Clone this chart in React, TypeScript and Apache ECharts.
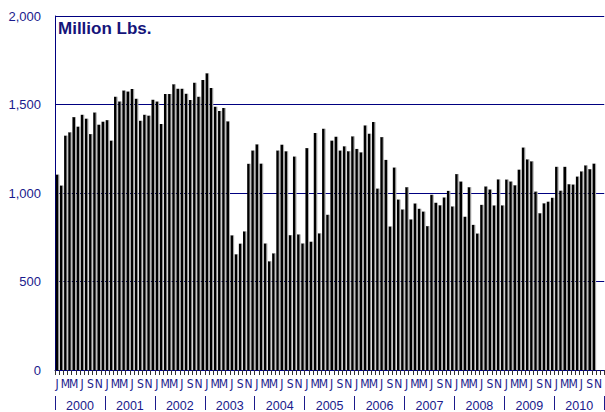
import React, { useEffect, useRef } from "react";
import * as echarts from "echarts";

const years = ["2000", "2001", "2002", "2003", "2004", "2005", "2006", "2007", "2008", "2009", "2010"];
const monthLetters = ["J", "F", "M", "A", "M", "J", "J", "A", "S", "O", "N", "D"];

const v2000 = [1104, 1042, 1324, 1343, 1429, 1375, 1442, 1420, 1333, 1455, 1386, 1403];
const v2001 = [1412, 1296, 1544, 1517, 1579, 1574, 1587, 1532, 1408, 1442, 1437, 1527];
const v2002 = [1517, 1390, 1559, 1559, 1615, 1589, 1589, 1561, 1525, 1623, 1544, 1638];
const v2003 = [1677, 1593, 1487, 1463, 1480, 1405, 761, 654, 714, 783, 1165, 1240];
const v2004 = [1275, 1166, 715, 614, 659, 1240, 1273, 1236, 762, 1206, 766, 715];
const v2005 = [1254, 725, 1339, 772, 1363, 877, 1296, 1318, 1240, 1264, 1236, 1320];
const v2006 = [1249, 1230, 1382, 1335, 1401, 1025, 1316, 1187, 811, 1144, 963, 907];
const v2007 = [1033, 851, 941, 911, 895, 813, 990, 945, 931, 975, 1012, 924];
const v2008 = [1107, 1065, 866, 1033, 820, 771, 933, 1037, 1020, 930, 1077, 930];
const v2009 = [1076, 1065, 1044, 1132, 1257, 1190, 1179, 1008, 886, 942, 951, 973];
const v2010 = [1148, 1013, 1148, 1050, 1048, 1093, 1122, 1156, 1135, 1166];

const yTicks = [0, 500, 1000, 1500, 2000];

export default function App() {
  const ref = useRef<HTMLDivElement>(null);
  useEffect(() => {
    if (!ref.current) return;
    const chart = echarts.init(ref.current, null, { renderer: "svg" });
    const months: string[] = [];
    years.forEach((y) => monthLetters.forEach((m, i) => months.push(y + "-" + i)));
    const values: (number | null)[] = [
      ...v2000, ...v2001, ...v2002, ...v2003, ...v2004, ...v2005,
      ...v2006, ...v2007, ...v2008, ...v2009, ...v2010,
    ];
    while (values.length < months.length) values.push(null);
    const navy = "#1a1a8c";
    const font = "Liberation Sans, Arial, sans-serif";
    const narrow = "Liberation Sans Narrow, Arial Narrow, DejaVu Sans Condensed, sans-serif";
    chart.setOption({
      animation: false,
      backgroundColor: "#ffffff",
      title: {
        text: "Million Lbs.",
        left: 58,
        top: 20,
        padding: 0,
        textStyle: { color: "#14147a", fontSize: 17, fontWeight: "bold", fontFamily: font },
      },
      grid: { left: 55, top: 16, bottom: 41, right: -8.5, containLabel: false },
      xAxis: [
        {
          type: "category",
          data: months,
          boundaryGap: true,
          axisLine: { show: true, lineStyle: { color: "#000080", width: 1 } },
          axisTick: { show: true, length: 5, interval: 0, lineStyle: { color: "#333333" } },
          axisLabel: {
            interval: 1,
            margin: 8,
            color: navy,
            fontSize: 12,
            fontFamily: narrow,
            formatter: (v: string) => monthLetters[parseInt(v.split("-")[1], 10)],
          },
          splitLine: { show: false },
        },
        {
          type: "category",
          data: years,
          position: "bottom",
          offset: 26,
          boundaryGap: true,
          axisLine: { show: false },
          axisTick: { show: true, length: 14, lineStyle: { color: navy } },
          axisLabel: { margin: 3, color: navy, fontSize: 12.5, fontFamily: font },
          splitLine: { show: false },
        },
      ],
      yAxis: {
        type: "value",
        min: yTicks[0],
        max: yTicks[yTicks.length - 1],
        interval: 500,
        axisLine: { show: true, lineStyle: { color: "#000080", width: 1 } },
        axisTick: { show: false },
        axisLabel: {
          margin: 14,
          color: navy,
          fontSize: 13,
          fontFamily: font,
          formatter: (v: number) => v.toLocaleString("en-US"),
        },
        splitLine: { show: true, lineStyle: { color: "#000080", width: 1 } },
      },
      series: [
        {
          type: "bar",
          xAxisIndex: 0,
          data: values,
          barWidth: 2.6,
          itemStyle: {
            color: "#000000",
            shadowColor: "#b0b0b0",
            shadowOffsetX: 1,
            shadowOffsetY: 0,
            shadowBlur: 0,
          },
        },
      ],
    });
    return () => chart.dispose();
  }, []);
  return (
    <div
      ref={ref}
      style={{ position: "fixed", left: 0, top: 0, width: 605, height: 412, overflow: "hidden" }}
    />
  );
}
